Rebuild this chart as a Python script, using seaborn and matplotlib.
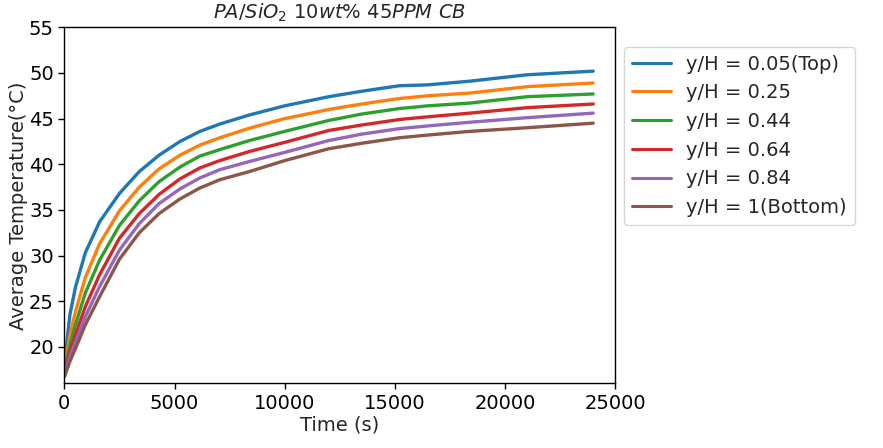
import matplotlib
matplotlib.use("Agg")
import matplotlib.pyplot as plt
import pandas as pd
import seaborn as sns

# readings taken off the reference curves
time_s = [0, 250, 500, 950, 1600, 2500, 3400, 4300, 5250, 6150, 7050,
          8400, 10000, 12000, 13500, 15200, 16500, 18400, 21000, 24000]

t_005 = [18.0, 23.5, 26.5, 30.3, 33.7, 36.8, 39.2, 41.0, 42.5, 43.6, 44.4,
         45.4, 46.4, 47.4, 48.0, 48.6, 48.7, 49.1, 49.8, 50.2]
t_025 = [17.7, 21.3, 23.8, 27.6, 31.3, 34.9, 37.5, 39.5, 41.0, 42.1, 42.9,
         43.95, 45.0, 46.0, 46.6, 47.2, 47.5, 47.8, 48.5, 48.9]
t_044 = [17.4, 20.2, 22.4, 25.9, 29.5, 33.3, 36.0, 38.1, 39.7, 40.9, 41.6,
         42.6, 43.6, 44.8, 45.5, 46.1, 46.4, 46.7, 47.4, 47.7]
t_064 = [17.2, 19.5, 21.3, 24.4, 27.9, 31.9, 34.6, 36.7, 38.4, 39.6, 40.4,
         41.4, 42.4, 43.7, 44.3, 44.9, 45.2, 45.6, 46.2, 46.6]
t_084 = [17.0, 18.9, 20.5, 23.3, 26.6, 30.6, 33.5, 35.7, 37.3, 38.5, 39.4,
         40.3, 41.3, 42.6, 43.3, 43.9, 44.2, 44.6, 45.1, 45.6]
t_100 = [16.7, 18.4, 19.8, 22.4, 25.5, 29.6, 32.5, 34.6, 36.2, 37.4, 38.3,
         39.2, 40.4, 41.7, 42.3, 42.9, 43.2, 43.6, 44.0, 44.5]

labels = ["y/H = 0.05(Top)", "y/H = 0.25", "y/H = 0.44",
          "y/H = 0.64", "y/H = 0.84", "y/H = 1(Bottom)"]
series = [t_005, t_025, t_044, t_064, t_084, t_100]

frames = [pd.DataFrame({"Time (s)": time_s, "T": vals, "pos": lab})
          for lab, vals in zip(labels, series)]
df = pd.concat(frames, ignore_index=True)

sns.set_style("ticks")
plt.rcParams["font.family"] = ["DejaVu Sans"]
plt.rcParams["font.size"] = 14

fig = plt.figure(figsize=(8.83, 4.48), dpi=100)
ax = fig.add_axes([0.0729, 0.1444, 0.6239, 0.7946])

sns.lineplot(data=df, x="Time (s)", y="T", hue="pos", hue_order=labels,
             palette=sns.color_palette("tab10", 6), linewidth=2.4, ax=ax)

ax.set_xlim(0, 25000)
ax.set_ylim(16, 55)
ax.set_xticks([0, 5000, 10000, 15000, 20000, 25000])
ax.set_yticks([20, 25, 30, 35, 40, 45, 50, 55])
ax.tick_params(labelsize=14, direction="out", length=4, width=1, colors="black")
for s in ax.spines.values():
    s.set_color("black")
    s.set_linewidth(1)

ax.set_xlabel("Time (s)", fontsize=14, labelpad=2)
ax.set_ylabel("Average Temperature(°C)", fontsize=14, labelpad=1)
ax.set_title(r"$PA/SiO_2\ 10wt\%\ 45PPM\ CB$", fontsize=14)

handles, labs = ax.get_legend_handles_labels()
for h in handles:
    h.set_linewidth(2.2)
ax.legend(handles, labs, loc="upper left", bbox_to_anchor=(1.016, 0.9455),
          borderaxespad=0, fontsize=14, frameon=True)

fig.savefig("out.png", dpi=100)
